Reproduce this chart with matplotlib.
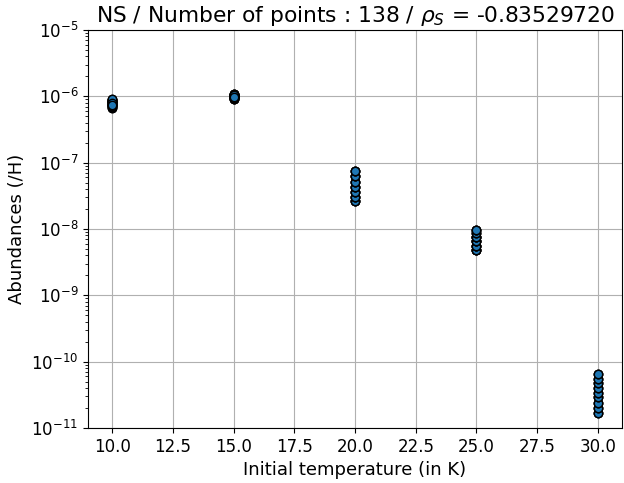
import numpy as np
import matplotlib
matplotlib.use("Agg")
import matplotlib.pyplot as plt
from matplotlib.ticker import LogLocator, NullFormatter

# abundances, grouped by initial temperature
# (many runs land on nearly the same value, so levels repeat)
ab_10 = [6.7e-7, 6.7e-7, 6.9e-7, 6.9e-7, 7.1e-7, 7.1e-7, 7.3e-7, 7.3e-7, 7.5e-7, 7.5e-7,
         7.7e-7, 7.7e-7, 7.9e-7, 7.9e-7, 8.1e-7, 8.1e-7, 8.3e-7, 8.3e-7, 8.5e-7, 8.5e-7,
         8.7e-7, 8.7e-7, 8.9e-7, 8.9e-7, 9.0e-7, 9.0e-7, 8.0e-7, 7.4e-7]
ab_15 = [9.0e-7, 9.0e-7, 9.2e-7, 9.2e-7, 9.4e-7, 9.4e-7, 9.6e-7, 9.6e-7, 9.8e-7, 9.8e-7,
         1.0e-6, 1.0e-6, 1.02e-6, 1.02e-6, 1.04e-6, 1.04e-6, 1.06e-6, 1.06e-6, 1.08e-6, 1.08e-6,
         1.1e-6, 1.1e-6, 1.0e-6, 9.5e-7, 1.05e-6, 9.7e-7, 1.03e-6, 9.9e-7]
ab_20 = [2.6e-8, 2.6e-8, 2.6e-8, 2.6e-8, 3.0e-8, 3.0e-8, 3.0e-8, 3.0e-8, 3.6e-8, 3.6e-8,
         3.6e-8, 3.6e-8, 4.3e-8, 4.3e-8, 4.3e-8, 4.3e-8, 5.1e-8, 5.1e-8, 5.1e-8, 5.1e-8,
         6.2e-8, 6.2e-8, 6.2e-8, 6.2e-8, 7.4e-8, 7.4e-8, 7.4e-8, 7.4e-8]
ab_25 = [4.8e-9, 4.8e-9, 4.8e-9, 4.8e-9, 4.8e-9, 5.6e-9, 5.6e-9, 5.6e-9, 5.6e-9, 5.6e-9,
         6.5e-9, 6.5e-9, 6.5e-9, 6.5e-9, 6.5e-9, 7.5e-9, 7.5e-9, 7.5e-9, 7.5e-9, 7.5e-9,
         8.6e-9, 8.6e-9, 8.6e-9, 9.7e-9, 9.7e-9, 9.7e-9, 9.7e-9]
ab_30 = [1.7e-11, 1.7e-11, 1.7e-11, 2.0e-11, 2.0e-11, 2.0e-11, 2.4e-11, 2.4e-11, 2.4e-11, 2.9e-11,
         2.9e-11, 2.9e-11, 3.4e-11, 3.4e-11, 3.4e-11, 4.0e-11, 4.0e-11, 4.0e-11, 4.7e-11, 4.7e-11,
         4.7e-11, 5.4e-11, 5.4e-11, 5.4e-11, 6.4e-11, 6.4e-11, 6.4e-11]
temps = [10.0, 15.0, 20.0, 25.0, 30.0]
groups = [ab_10, ab_15, ab_20, ab_25, ab_30]

x = np.concatenate([[t] * len(g) for t, g in zip(temps, groups)])
y = np.concatenate(groups)

fig = plt.figure(figsize=(6.24, 4.83), dpi=100)
ax = fig.add_subplot(111)
fig.subplots_adjust(left=0.141, right=0.997, top=0.938, bottom=0.114)

ax.scatter(x, y, color='C0', edgecolors='k', zorder=3)
ax.set_yscale('log')
ax.set_ylim(1e-11, 1e-5)
ax.yaxis.set_major_locator(LogLocator(base=10, numticks=20))
ax.yaxis.set_minor_locator(LogLocator(base=10, subs=np.arange(2, 10), numticks=100))
ax.yaxis.set_minor_formatter(NullFormatter())
ax.grid(True, zorder=0)
ax.set_axisbelow(True)
ax.tick_params(labelsize=12)
ax.set_xlabel('Initial temperature (in K)', fontsize=13)
ax.set_ylabel('Abundances (/H)', fontsize=13)
ax.set_title(r'NS / Number of points : %d / $\rho_S$ = -0.83529720' % len(y), fontsize=15.7)

plt.savefig('out.png')
